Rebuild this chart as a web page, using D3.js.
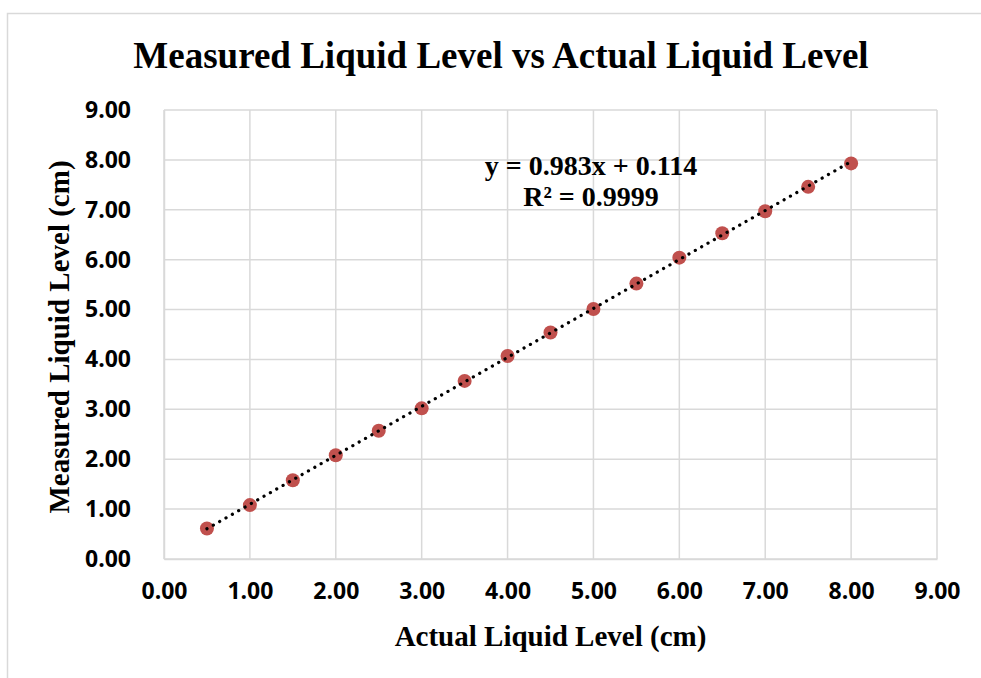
<!DOCTYPE html>
<html>
<head>
<meta charset="utf-8">
<script src="https://cdn.jsdelivr.net/npm/d3@7"></script>
<style>
  body { margin: 0; background: #fff; }
  .tick text { font-family: "Open Sans", sans-serif; font-weight: bold; font-size: 23px; fill: #000; }
  .serif { font-family: "Liberation Serif", "Times New Roman", serif; font-weight: bold; fill: #000; }
</style>
</head>
<body>
<div id="chart"></div>
<script>
var svgWidth = 981;
var svgHeight = 678;

var margin = { top: 110, right: 44, bottom: 119, left: 164 };
var width = svgWidth - margin.left - margin.right;
var height = svgHeight - margin.top - margin.bottom;

// data
var actualLevel = [0.5, 1.0, 1.5, 2.0, 2.5, 3.0, 3.5, 4.0, 4.5, 5.0, 5.5, 6.0, 6.5, 7.0, 7.5, 8.0];
var measuredLevel = [0.61, 1.08, 1.58, 2.08, 2.57, 3.02, 3.57, 4.07, 4.54, 5.01, 5.52, 6.04, 6.53, 6.97, 7.46, 7.93];
var tickValues = [0, 1, 2, 3, 4, 5, 6, 7, 8, 9];
var equationLines = ["y = 0.983x + 0.114", "R\u00B2 = 0.9999"];

var points = actualLevel.map((x, i) => ({ x: x, y: measuredLevel[i] }));

var svg = d3.select("#chart")
  .append("svg")
  .attr("width", svgWidth)
  .attr("height", svgHeight);

// chart frame
svg.append("rect")
  .attr("x", 7.5)
  .attr("y", 13.5)
  .attr("width", svgWidth + 20)
  .attr("height", svgHeight + 20)
  .attr("fill", "none")
  .attr("stroke", "#d9d9d9")
  .attr("stroke-width", 1.5);

var chartGroup = svg.append("g")
  .attr("transform", `translate(${margin.left}, ${margin.top})`);

var xScale = d3.scaleLinear().domain([0, 9]).range([0, width]);
var yScale = d3.scaleLinear().domain([0, 9]).range([height, 0]);

// gridlines
chartGroup.append("g")
  .selectAll("line")
  .data(tickValues)
  .enter()
  .append("line")
  .attr("x1", d => xScale(d))
  .attr("x2", d => xScale(d))
  .attr("y1", 0)
  .attr("y2", height)
  .attr("stroke", "#d9d9d9")
  .attr("stroke-width", 1.5);

chartGroup.append("g")
  .selectAll("line")
  .data(tickValues)
  .enter()
  .append("line")
  .attr("x1", 0)
  .attr("x2", width)
  .attr("y1", d => yScale(d))
  .attr("y2", d => yScale(d))
  .attr("stroke", "#d9d9d9")
  .attr("stroke-width", 1.5);

// axes
var bottomAxis = d3.axisBottom(xScale)
  .tickValues(tickValues)
  .tickFormat(d3.format(".2f"))
  .tickSize(0)
  .tickPadding(24);

var leftAxis = d3.axisLeft(yScale)
  .tickValues(tickValues)
  .tickFormat(d3.format(".2f"))
  .tickSize(0)
  .tickPadding(33);

var xAxis = chartGroup.append("g")
  .attr("transform", `translate(0, ${height})`)
  .call(bottomAxis);
xAxis.select(".domain").attr("stroke", "#d9d9d9").attr("stroke-width", 1.5);

var yAxis = chartGroup.append("g")
  .call(leftAxis);
yAxis.select(".domain").attr("stroke", "#d9d9d9").attr("stroke-width", 1.5);

// trendline from least squares fit
var mx = d3.mean(points, d => d.x);
var my = d3.mean(points, d => d.y);
var slope = d3.sum(points, d => (d.x - mx) * (d.y - my)) / d3.sum(points, d => (d.x - mx) * (d.x - mx));
var intercept = my - slope * mx;
var xExtent = d3.extent(actualLevel);

var line = d3.line()
  .x(d => xScale(d))
  .y(d => yScale(slope * d + intercept));

// markers
chartGroup.append("g")
  .selectAll("circle")
  .data(points)
  .enter()
  .append("circle")
  .attr("cx", d => xScale(d.x))
  .attr("cy", d => yScale(d.y))
  .attr("r", 7)
  .attr("fill", "#c0504d");

chartGroup.append("path")
  .datum(xExtent)
  .attr("d", line)
  .attr("fill", "none")
  .attr("stroke", "#000")
  .attr("stroke-width", 3.2)
  .attr("stroke-linecap", "round")
  .attr("stroke-dasharray", "0.1,7.2");

// equation label
var eq = chartGroup.append("text")
  .attr("class", "serif")
  .attr("font-size", "28px")
  .attr("text-anchor", "middle")
  .attr("x", 427)
  .attr("y", 65);
eq.selectAll("tspan")
  .data(equationLines)
  .enter()
  .append("tspan")
  .attr("x", 427)
  .attr("dy", (d, i) => i === 0 ? 0 : 31)
  .text(d => d);

// title
svg.append("text")
  .attr("class", "serif")
  .attr("font-size", "37px")
  .attr("text-anchor", "middle")
  .attr("x", 501)
  .attr("y", 68)
  .text("Measured Liquid Level vs Actual Liquid Level");

// axis titles
svg.append("text")
  .attr("class", "serif")
  .attr("font-size", "29px")
  .attr("text-anchor", "middle")
  .attr("x", margin.left + width / 2)
  .attr("y", 646)
  .text("Actual Liquid Level (cm)");

svg.append("text")
  .attr("class", "serif")
  .attr("font-size", "29px")
  .attr("text-anchor", "middle")
  .attr("transform", `translate(69, 337) rotate(-90)`)
  .text("Measured Liquid Level (cm)");
</script>
</body>
</html>
